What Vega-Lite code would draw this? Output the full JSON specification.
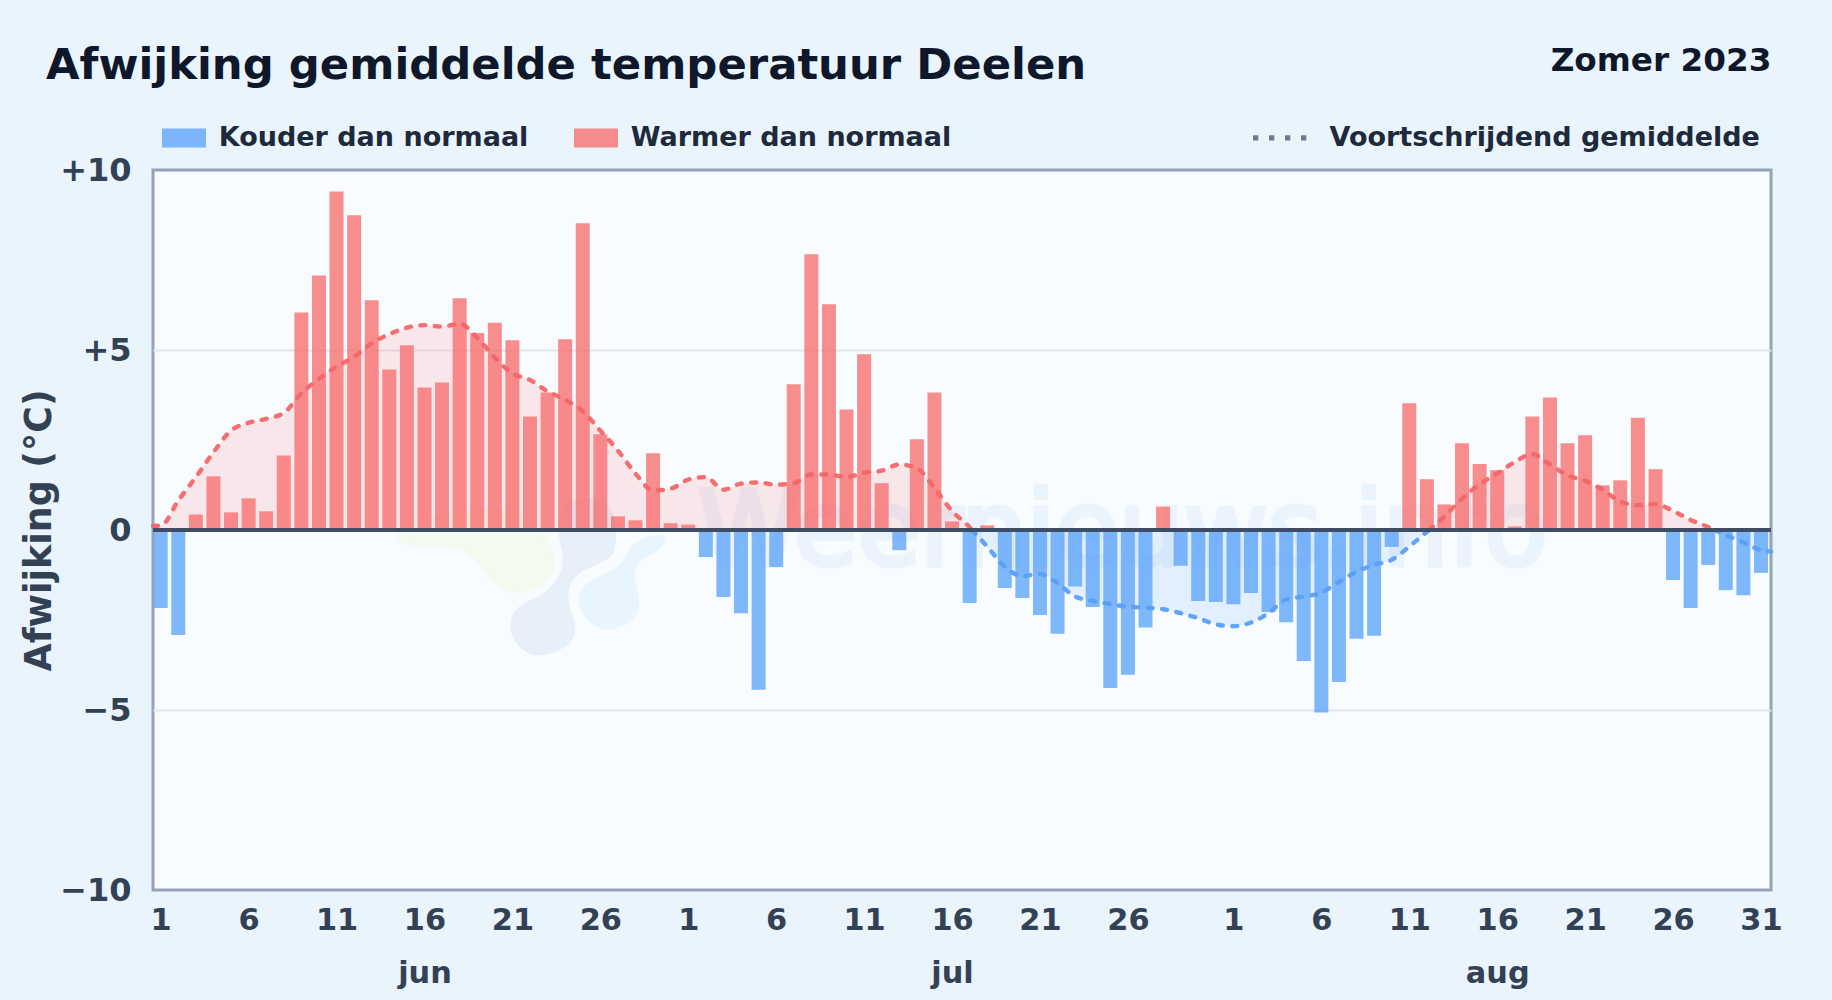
{"$schema":"https://vega.github.io/schema/vega-lite/v6.json","width":1618,"height":720,"autosize":{"type":"none"},"padding":{"left":153,"top":170,"right":61,"bottom":110},"background":"#e9f4fd",
"title":{"text":"Afwijking gemiddelde temperatuur Deelen","anchor":"start","frame":"group","dx":-107,"offset":-44,"font":"DejaVu Sans","fontWeight":"bold","fontSize":43.35,"color":"#0f172a"},
"config":{"font":"DejaVu Sans","view":{"fill":"#f8fcff","stroke":"#94a3b8","strokeWidth":3}},
"datasets":{
"dagen":[{"date":"2023-06-01T00:00:00","afwijking":-2.17,"soort":"Kouder dan normaal"},{"date":"2023-06-02T00:00:00","afwijking":-2.92,"soort":"Kouder dan normaal"},{"date":"2023-06-03T00:00:00","afwijking":0.43,"soort":"Warmer dan normaal"},{"date":"2023-06-04T00:00:00","afwijking":1.49,"soort":"Warmer dan normaal"},{"date":"2023-06-05T00:00:00","afwijking":0.49,"soort":"Warmer dan normaal"},{"date":"2023-06-06T00:00:00","afwijking":0.88,"soort":"Warmer dan normaal"},{"date":"2023-06-07T00:00:00","afwijking":0.52,"soort":"Warmer dan normaal"},{"date":"2023-06-08T00:00:00","afwijking":2.07,"soort":"Warmer dan normaal"},{"date":"2023-06-09T00:00:00","afwijking":6.04,"soort":"Warmer dan normaal"},{"date":"2023-06-10T00:00:00","afwijking":7.07,"soort":"Warmer dan normaal"},{"date":"2023-06-11T00:00:00","afwijking":9.4,"soort":"Warmer dan normaal"},{"date":"2023-06-12T00:00:00","afwijking":8.74,"soort":"Warmer dan normaal"},{"date":"2023-06-13T00:00:00","afwijking":6.38,"soort":"Warmer dan normaal"},{"date":"2023-06-14T00:00:00","afwijking":4.46,"soort":"Warmer dan normaal"},{"date":"2023-06-15T00:00:00","afwijking":5.13,"soort":"Warmer dan normaal"},{"date":"2023-06-16T00:00:00","afwijking":3.96,"soort":"Warmer dan normaal"},{"date":"2023-06-17T00:00:00","afwijking":4.1,"soort":"Warmer dan normaal"},{"date":"2023-06-18T00:00:00","afwijking":6.44,"soort":"Warmer dan normaal"},{"date":"2023-06-19T00:00:00","afwijking":5.47,"soort":"Warmer dan normaal"},{"date":"2023-06-20T00:00:00","afwijking":5.76,"soort":"Warmer dan normaal"},{"date":"2023-06-21T00:00:00","afwijking":5.27,"soort":"Warmer dan normaal"},{"date":"2023-06-22T00:00:00","afwijking":3.15,"soort":"Warmer dan normaal"},{"date":"2023-06-23T00:00:00","afwijking":3.82,"soort":"Warmer dan normaal"},{"date":"2023-06-24T00:00:00","afwijking":5.3,"soort":"Warmer dan normaal"},{"date":"2023-06-25T00:00:00","afwijking":8.52,"soort":"Warmer dan normaal"},{"date":"2023-06-26T00:00:00","afwijking":2.66,"soort":"Warmer dan normaal"},{"date":"2023-06-27T00:00:00","afwijking":0.38,"soort":"Warmer dan normaal"},{"date":"2023-06-28T00:00:00","afwijking":0.27,"soort":"Warmer dan normaal"},{"date":"2023-06-29T00:00:00","afwijking":2.13,"soort":"Warmer dan normaal"},{"date":"2023-06-30T00:00:00","afwijking":0.19,"soort":"Warmer dan normaal"},{"date":"2023-07-01T00:00:00","afwijking":0.15,"soort":"Warmer dan normaal"},{"date":"2023-07-02T00:00:00","afwijking":-0.75,"soort":"Kouder dan normaal"},{"date":"2023-07-03T00:00:00","afwijking":-1.86,"soort":"Kouder dan normaal"},{"date":"2023-07-04T00:00:00","afwijking":-2.31,"soort":"Kouder dan normaal"},{"date":"2023-07-05T00:00:00","afwijking":-4.44,"soort":"Kouder dan normaal"},{"date":"2023-07-06T00:00:00","afwijking":-1.03,"soort":"Kouder dan normaal"},{"date":"2023-07-07T00:00:00","afwijking":4.05,"soort":"Warmer dan normaal"},{"date":"2023-07-08T00:00:00","afwijking":7.66,"soort":"Warmer dan normaal"},{"date":"2023-07-09T00:00:00","afwijking":6.27,"soort":"Warmer dan normaal"},{"date":"2023-07-10T00:00:00","afwijking":3.35,"soort":"Warmer dan normaal"},{"date":"2023-07-11T00:00:00","afwijking":4.88,"soort":"Warmer dan normaal"},{"date":"2023-07-12T00:00:00","afwijking":1.3,"soort":"Warmer dan normaal"},{"date":"2023-07-13T00:00:00","afwijking":-0.56,"soort":"Kouder dan normaal"},{"date":"2023-07-14T00:00:00","afwijking":2.52,"soort":"Warmer dan normaal"},{"date":"2023-07-15T00:00:00","afwijking":3.82,"soort":"Warmer dan normaal"},{"date":"2023-07-16T00:00:00","afwijking":0.24,"soort":"Warmer dan normaal"},{"date":"2023-07-17T00:00:00","afwijking":-2.03,"soort":"Kouder dan normaal"},{"date":"2023-07-18T00:00:00","afwijking":0.13,"soort":"Warmer dan normaal"},{"date":"2023-07-19T00:00:00","afwijking":-1.61,"soort":"Kouder dan normaal"},{"date":"2023-07-20T00:00:00","afwijking":-1.89,"soort":"Kouder dan normaal"},{"date":"2023-07-21T00:00:00","afwijking":-2.36,"soort":"Kouder dan normaal"},{"date":"2023-07-22T00:00:00","afwijking":-2.88,"soort":"Kouder dan normaal"},{"date":"2023-07-23T00:00:00","afwijking":-1.57,"soort":"Kouder dan normaal"},{"date":"2023-07-24T00:00:00","afwijking":-2.14,"soort":"Kouder dan normaal"},{"date":"2023-07-25T00:00:00","afwijking":-4.39,"soort":"Kouder dan normaal"},{"date":"2023-07-26T00:00:00","afwijking":-4.02,"soort":"Kouder dan normaal"},{"date":"2023-07-27T00:00:00","afwijking":-2.71,"soort":"Kouder dan normaal"},{"date":"2023-07-28T00:00:00","afwijking":0.65,"soort":"Warmer dan normaal"},{"date":"2023-07-29T00:00:00","afwijking":-0.99,"soort":"Kouder dan normaal"},{"date":"2023-07-30T00:00:00","afwijking":-1.97,"soort":"Kouder dan normaal"},{"date":"2023-07-31T00:00:00","afwijking":-2.0,"soort":"Kouder dan normaal"},{"date":"2023-08-01T00:00:00","afwijking":-2.06,"soort":"Kouder dan normaal"},{"date":"2023-08-02T00:00:00","afwijking":-1.75,"soort":"Kouder dan normaal"},{"date":"2023-08-03T00:00:00","afwijking":-2.28,"soort":"Kouder dan normaal"},{"date":"2023-08-04T00:00:00","afwijking":-2.56,"soort":"Kouder dan normaal"},{"date":"2023-08-05T00:00:00","afwijking":-3.64,"soort":"Kouder dan normaal"},{"date":"2023-08-06T00:00:00","afwijking":-5.07,"soort":"Kouder dan normaal"},{"date":"2023-08-07T00:00:00","afwijking":-4.22,"soort":"Kouder dan normaal"},{"date":"2023-08-08T00:00:00","afwijking":-3.02,"soort":"Kouder dan normaal"},{"date":"2023-08-09T00:00:00","afwijking":-2.94,"soort":"Kouder dan normaal"},{"date":"2023-08-10T00:00:00","afwijking":-0.47,"soort":"Kouder dan normaal"},{"date":"2023-08-11T00:00:00","afwijking":3.52,"soort":"Warmer dan normaal"},{"date":"2023-08-12T00:00:00","afwijking":1.41,"soort":"Warmer dan normaal"},{"date":"2023-08-13T00:00:00","afwijking":0.71,"soort":"Warmer dan normaal"},{"date":"2023-08-14T00:00:00","afwijking":2.41,"soort":"Warmer dan normaal"},{"date":"2023-08-15T00:00:00","afwijking":1.83,"soort":"Warmer dan normaal"},{"date":"2023-08-16T00:00:00","afwijking":1.66,"soort":"Warmer dan normaal"},{"date":"2023-08-17T00:00:00","afwijking":0.1,"soort":"Warmer dan normaal"},{"date":"2023-08-18T00:00:00","afwijking":3.15,"soort":"Warmer dan normaal"},{"date":"2023-08-19T00:00:00","afwijking":3.68,"soort":"Warmer dan normaal"},{"date":"2023-08-20T00:00:00","afwijking":2.41,"soort":"Warmer dan normaal"},{"date":"2023-08-21T00:00:00","afwijking":2.63,"soort":"Warmer dan normaal"},{"date":"2023-08-22T00:00:00","afwijking":1.24,"soort":"Warmer dan normaal"},{"date":"2023-08-23T00:00:00","afwijking":1.38,"soort":"Warmer dan normaal"},{"date":"2023-08-24T00:00:00","afwijking":3.12,"soort":"Warmer dan normaal"},{"date":"2023-08-25T00:00:00","afwijking":1.69,"soort":"Warmer dan normaal"},{"date":"2023-08-26T00:00:00","afwijking":-1.39,"soort":"Kouder dan normaal"},{"date":"2023-08-27T00:00:00","afwijking":-2.17,"soort":"Kouder dan normaal"},{"date":"2023-08-28T00:00:00","afwijking":-0.97,"soort":"Kouder dan normaal"},{"date":"2023-08-29T00:00:00","afwijking":-1.67,"soort":"Kouder dan normaal"},{"date":"2023-08-30T00:00:00","afwijking":-1.81,"soort":"Kouder dan normaal"},{"date":"2023-08-31T00:00:00","afwijking":-1.19,"soort":"Kouder dan normaal"}],
"gemiddelde":[
{"date":"2023-05-31T13:30:00","waarde":0.12,"deel":"a","soort":"Warmer dan normaal"},{"date":"2023-06-01T00:00:00","waarde":0.12,"deel":"a","soort":"Warmer dan normaal"},{"date":"2023-06-02T00:00:00","waarde":0.82,"deel":"a","soort":"Warmer dan normaal"},{"date":"2023-06-03T00:00:00","waarde":1.47,"deel":"a","soort":"Warmer dan normaal"},{"date":"2023-06-04T00:00:00","waarde":2.16,"deel":"a","soort":"Warmer dan normaal"},{"date":"2023-06-05T00:00:00","waarde":2.76,"deel":"a","soort":"Warmer dan normaal"},{"date":"2023-06-06T00:00:00","waarde":2.98,"deel":"a","soort":"Warmer dan normaal"},{"date":"2023-06-07T00:00:00","waarde":3.09,"deel":"a","soort":"Warmer dan normaal"},{"date":"2023-06-08T00:00:00","waarde":3.25,"deel":"a","soort":"Warmer dan normaal"},{"date":"2023-06-09T00:00:00","waarde":3.8,"deel":"a","soort":"Warmer dan normaal"},{"date":"2023-06-10T00:00:00","waarde":4.2,"deel":"a","soort":"Warmer dan normaal"},{"date":"2023-06-11T00:00:00","waarde":4.54,"deel":"a","soort":"Warmer dan normaal"},{"date":"2023-06-12T00:00:00","waarde":4.81,"deel":"a","soort":"Warmer dan normaal"},{"date":"2023-06-13T00:00:00","waarde":5.19,"deel":"a","soort":"Warmer dan normaal"},{"date":"2023-06-14T00:00:00","waarde":5.44,"deel":"a","soort":"Warmer dan normaal"},{"date":"2023-06-15T00:00:00","waarde":5.62,"deel":"a","soort":"Warmer dan normaal"},{"date":"2023-06-16T00:00:00","waarde":5.69,"deel":"a","soort":"Warmer dan normaal"},{"date":"2023-06-17T00:00:00","waarde":5.65,"deel":"a","soort":"Warmer dan normaal"},{"date":"2023-06-18T00:00:00","waarde":5.73,"deel":"a","soort":"Warmer dan normaal"},{"date":"2023-06-19T00:00:00","waarde":5.34,"deel":"a","soort":"Warmer dan normaal"},{"date":"2023-06-20T00:00:00","waarde":4.79,"deel":"a","soort":"Warmer dan normaal"},{"date":"2023-06-21T00:00:00","waarde":4.35,"deel":"a","soort":"Warmer dan normaal"},{"date":"2023-06-22T00:00:00","waarde":4.17,"deel":"a","soort":"Warmer dan normaal"},{"date":"2023-06-23T00:00:00","waarde":3.85,"deel":"a","soort":"Warmer dan normaal"},{"date":"2023-06-24T00:00:00","waarde":3.62,"deel":"a","soort":"Warmer dan normaal"},{"date":"2023-06-25T00:00:00","waarde":3.3,"deel":"a","soort":"Warmer dan normaal"},{"date":"2023-06-26T00:00:00","waarde":2.76,"deel":"a","soort":"Warmer dan normaal"},{"date":"2023-06-27T00:00:00","waarde":2.21,"deel":"a","soort":"Warmer dan normaal"},{"date":"2023-06-28T00:00:00","waarde":1.57,"deel":"a","soort":"Warmer dan normaal"},{"date":"2023-06-29T00:00:00","waarde":1.1,"deel":"a","soort":"Warmer dan normaal"},{"date":"2023-06-30T00:00:00","waarde":1.15,"deel":"a","soort":"Warmer dan normaal"},{"date":"2023-07-01T00:00:00","waarde":1.4,"deel":"a","soort":"Warmer dan normaal"},{"date":"2023-07-02T00:00:00","waarde":1.47,"deel":"a","soort":"Warmer dan normaal"},{"date":"2023-07-03T00:00:00","waarde":1.12,"deel":"a","soort":"Warmer dan normaal"},{"date":"2023-07-04T00:00:00","waarde":1.29,"deel":"a","soort":"Warmer dan normaal"},{"date":"2023-07-05T00:00:00","waarde":1.32,"deel":"a","soort":"Warmer dan normaal"},{"date":"2023-07-06T00:00:00","waarde":1.26,"deel":"a","soort":"Warmer dan normaal"},{"date":"2023-07-07T00:00:00","waarde":1.3,"deel":"a","soort":"Warmer dan normaal"},{"date":"2023-07-08T00:00:00","waarde":1.54,"deel":"a","soort":"Warmer dan normaal"},{"date":"2023-07-09T00:00:00","waarde":1.54,"deel":"a","soort":"Warmer dan normaal"},{"date":"2023-07-10T00:00:00","waarde":1.47,"deel":"a","soort":"Warmer dan normaal"},{"date":"2023-07-11T00:00:00","waarde":1.59,"deel":"a","soort":"Warmer dan normaal"},{"date":"2023-07-12T00:00:00","waarde":1.65,"deel":"a","soort":"Warmer dan normaal"},{"date":"2023-07-13T00:00:00","waarde":1.82,"deel":"a","soort":"Warmer dan normaal"},{"date":"2023-07-14T00:00:00","waarde":1.72,"deel":"a","soort":"Warmer dan normaal"},{"date":"2023-07-15T00:00:00","waarde":1.17,"deel":"a","soort":"Warmer dan normaal"},{"date":"2023-07-16T00:00:00","waarde":0.53,"deel":"a","soort":"Warmer dan normaal"},{"date":"2023-07-17T00:00:00","waarde":0.08,"deel":"a","soort":"Warmer dan normaal"},{"date":"2023-07-17T03:30:00","waarde":0,"deel":"a","soort":"Warmer dan normaal"},
{"date":"2023-07-17T03:30:00","waarde":0,"deel":"b","soort":"Kouder dan normaal"},{"date":"2023-07-18T00:00:00","waarde":-0.46,"deel":"b","soort":"Kouder dan normaal"},{"date":"2023-07-19T00:00:00","waarde":-1.02,"deel":"b","soort":"Kouder dan normaal"},{"date":"2023-07-20T00:00:00","waarde":-1.28,"deel":"b","soort":"Kouder dan normaal"},{"date":"2023-07-21T00:00:00","waarde":-1.22,"deel":"b","soort":"Kouder dan normaal"},{"date":"2023-07-22T00:00:00","waarde":-1.48,"deel":"b","soort":"Kouder dan normaal"},{"date":"2023-07-23T00:00:00","waarde":-1.85,"deel":"b","soort":"Kouder dan normaal"},{"date":"2023-07-24T00:00:00","waarde":-1.97,"deel":"b","soort":"Kouder dan normaal"},{"date":"2023-07-25T00:00:00","waarde":-2.06,"deel":"b","soort":"Kouder dan normaal"},{"date":"2023-07-26T00:00:00","waarde":-2.13,"deel":"b","soort":"Kouder dan normaal"},{"date":"2023-07-27T00:00:00","waarde":-2.16,"deel":"b","soort":"Kouder dan normaal"},{"date":"2023-07-28T00:00:00","waarde":-2.2,"deel":"b","soort":"Kouder dan normaal"},{"date":"2023-07-29T00:00:00","waarde":-2.31,"deel":"b","soort":"Kouder dan normaal"},{"date":"2023-07-30T00:00:00","waarde":-2.45,"deel":"b","soort":"Kouder dan normaal"},{"date":"2023-07-31T00:00:00","waarde":-2.62,"deel":"b","soort":"Kouder dan normaal"},{"date":"2023-08-01T00:00:00","waarde":-2.67,"deel":"b","soort":"Kouder dan normaal"},{"date":"2023-08-02T00:00:00","waarde":-2.57,"deel":"b","soort":"Kouder dan normaal"},{"date":"2023-08-03T00:00:00","waarde":-2.31,"deel":"b","soort":"Kouder dan normaal"},{"date":"2023-08-04T00:00:00","waarde":-1.93,"deel":"b","soort":"Kouder dan normaal"},{"date":"2023-08-05T00:00:00","waarde":-1.85,"deel":"b","soort":"Kouder dan normaal"},{"date":"2023-08-06T00:00:00","waarde":-1.74,"deel":"b","soort":"Kouder dan normaal"},{"date":"2023-08-07T00:00:00","waarde":-1.44,"deel":"b","soort":"Kouder dan normaal"},{"date":"2023-08-08T00:00:00","waarde":-1.16,"deel":"b","soort":"Kouder dan normaal"},{"date":"2023-08-09T00:00:00","waarde":-0.97,"deel":"b","soort":"Kouder dan normaal"},{"date":"2023-08-10T00:00:00","waarde":-0.83,"deel":"b","soort":"Kouder dan normaal"},{"date":"2023-08-11T00:00:00","waarde":-0.46,"deel":"b","soort":"Kouder dan normaal"},{"date":"2023-08-12T00:00:00","waarde":-0.05,"deel":"b","soort":"Kouder dan normaal"},{"date":"2023-08-12T03:00:00","waarde":0,"deel":"b","soort":"Kouder dan normaal"},
{"date":"2023-08-12T03:00:00","waarde":0,"deel":"c","soort":"Warmer dan normaal"},{"date":"2023-08-13T00:00:00","waarde":0.38,"deel":"c","soort":"Warmer dan normaal"},{"date":"2023-08-14T00:00:00","waarde":0.87,"deel":"c","soort":"Warmer dan normaal"},{"date":"2023-08-15T00:00:00","waarde":1.27,"deel":"c","soort":"Warmer dan normaal"},{"date":"2023-08-16T00:00:00","waarde":1.57,"deel":"c","soort":"Warmer dan normaal"},{"date":"2023-08-17T00:00:00","waarde":1.89,"deel":"c","soort":"Warmer dan normaal"},{"date":"2023-08-18T00:00:00","waarde":2.11,"deel":"c","soort":"Warmer dan normaal"},{"date":"2023-08-19T00:00:00","waarde":1.82,"deel":"c","soort":"Warmer dan normaal"},{"date":"2023-08-20T00:00:00","waarde":1.52,"deel":"c","soort":"Warmer dan normaal"},{"date":"2023-08-21T00:00:00","waarde":1.37,"deel":"c","soort":"Warmer dan normaal"},{"date":"2023-08-22T00:00:00","waarde":1.12,"deel":"c","soort":"Warmer dan normaal"},{"date":"2023-08-23T00:00:00","waarde":0.79,"deel":"c","soort":"Warmer dan normaal"},{"date":"2023-08-24T00:00:00","waarde":0.69,"deel":"c","soort":"Warmer dan normaal"},{"date":"2023-08-25T00:00:00","waarde":0.72,"deel":"c","soort":"Warmer dan normaal"},{"date":"2023-08-26T00:00:00","waarde":0.53,"deel":"c","soort":"Warmer dan normaal"},{"date":"2023-08-27T00:00:00","waarde":0.28,"deel":"c","soort":"Warmer dan normaal"},{"date":"2023-08-28T00:00:00","waarde":0.08,"deel":"c","soort":"Warmer dan normaal"},{"date":"2023-08-28T08:30:00","waarde":0,"deel":"c","soort":"Warmer dan normaal"},
{"date":"2023-08-28T08:30:00","waarde":0,"deel":"d","soort":"Kouder dan normaal"},{"date":"2023-08-29T00:00:00","waarde":-0.14,"deel":"d","soort":"Kouder dan normaal"},{"date":"2023-08-30T00:00:00","waarde":-0.35,"deel":"d","soort":"Kouder dan normaal"},{"date":"2023-08-31T00:00:00","waarde":-0.56,"deel":"d","soort":"Kouder dan normaal"},{"date":"2023-08-31T13:40:00","waarde":-0.6,"deel":"d","soort":"Kouder dan normaal"}]},
"resolve":{"axis":{"x":"independent","y":"independent"}},
"encoding":{"x":{"field":"date","type":"temporal","scale":{"domain":["2023-05-31T13:30:00","2023-08-31T13:40:00"],"padding":0},"axis":null}},
"layer":[
{"data":{"values":[{"date":"2023-06-21T10:00:00","naam":"logo groen"}]},"mark":{"type":"point","filled":true,"fill":"#f3faf0","stroke":"#f3faf0","strokeWidth":3,"strokeJoin":"round","opacity":1,"shape":"M-1.185,0.1 Q-1.07,0.17 -0.87,0.16 Q-0.67,0.15 -0.55,0.21 Q-0.43,0.27 -0.35,0.4 Q-0.27,0.53 -0.135,0.59 Q0,0.65 0.15,0.575 Q0.3,0.5 0.33,0.385 Q0.36,0.27 0.28,0.135 Q0.2,0 0.125,-0.1 Q0.05,-0.2 -0.275,-0.2 Q-0.6,-0.2 -0.95,-0.085 Q-1.3,0.03 -1.185,0.1Z","size":40000},"encoding":{"y":{"datum":0,"type":"quantitative","scale":{"domain":[-10,10],"nice":false},"axis":null}}},
{"data":{"values":[{"date":"2023-06-21T10:00:00","naam":"logo donker"}]},"mark":{"type":"point","filled":true,"fill":"#e7f0f9","stroke":"#e7f0f9","strokeWidth":3,"strokeJoin":"round","opacity":1,"shape":"M0.43,0.165 Q0.48,0.33 0.39,0.485 Q0.3,0.64 0.135,0.705 Q-0.03,0.77 -0.065,0.875 Q-0.1,0.98 -0.04,1.09 Q0.02,1.2 0.125,1.23 Q0.23,1.26 0.365,1.2 Q0.5,1.14 0.53,1.055 Q0.56,0.97 0.505,0.835 Q0.45,0.7 0.485,0.565 Q0.52,0.43 0.7,0.36 Q0.88,0.29 0.92,0.23 Q0.96,0.17 0.94,-0.065 Q0.92,-0.3 0.685,-0.3 Q0.45,-0.3 0.415,-0.15 Q0.38,0 0.43,0.165Z","size":40000},"encoding":{"y":{"datum":0,"type":"quantitative","axis":null}}},
{"data":{"values":[{"date":"2023-06-21T10:00:00","naam":"logo licht"}]},"mark":{"type":"point","filled":true,"fill":"#e9f5fe","stroke":"#e9f5fe","strokeWidth":3,"strokeJoin":"round","opacity":1,"shape":"M0.625,0.615 Q0.67,0.53 0.85,0.455 Q1.03,0.38 1.08,0.255 Q1.13,0.13 1.29,0.08 Q1.45,0.03 1.44,0.1 Q1.43,0.17 1.3,0.235 Q1.17,0.3 1.145,0.385 Q1.12,0.47 1.16,0.6 Q1.2,0.73 1.165,0.815 Q1.13,0.9 1.015,0.95 Q0.9,1 0.8,0.965 Q0.7,0.93 0.64,0.815 Q0.58,0.7 0.625,0.615Z","size":40000},"encoding":{"y":{"datum":0,"type":"quantitative","axis":null}}},
{"data":{"values":[{"date":"2023-07-25T17:00:00","tekst":"Weernieuws.info"}]},"mark":{"type":"text","font":"DejaVu Sans","fontWeight":"normal","fontSize":103,"align":"center","baseline":"alphabetic","fill":"#ebf3fc","stroke":"#ebf3fc","strokeWidth":5},"encoding":{"y":{"datum":-0.97,"type":"quantitative","axis":null},"text":{"field":"tekst"}}},
{"data":{"name":"gemiddelde"},"mark":{"type":"area","interpolate":"monotone","opacity":0.15},"encoding":{"x":{"field":"date","type":"temporal","axis":{"orient":"top","title":"Zomer 2023","domain":false,"ticks":false,"labels":false,"grid":false,"titleFont":"DejaVu Sans","titleFontWeight":"bold","titleFontSize":32.7,"titleColor":"#0f172a","titleAnchor":"end","titleAlign":"right","titlePadding":92.7}},"y":{"field":"waarde","type":"quantitative","axis":null},"y2":{"datum":0},"fill":{"field":"soort","type":"nominal","legend":null,"scale":{"domain":["Warmer dan normaal","Kouder dan normaal"],"range":["#f87171","#60a5fa"]}},"detail":{"field":"deel"}}},
{"data":{"name":"dagen"},"mark":{"type":"bar","width":14,"opacity":0.8},"encoding":{"x":{"field":"date","type":"temporal","scale":{"padding":0},"axis":{"values":["2023-06-01T00:00:00","2023-06-06T00:00:00","2023-06-11T00:00:00","2023-06-16T00:00:00","2023-06-21T00:00:00","2023-06-26T00:00:00","2023-07-01T00:00:00","2023-07-06T00:00:00","2023-07-11T00:00:00","2023-07-16T00:00:00","2023-07-21T00:00:00","2023-07-26T00:00:00","2023-08-01T00:00:00","2023-08-06T00:00:00","2023-08-11T00:00:00","2023-08-16T00:00:00","2023-08-21T00:00:00","2023-08-26T00:00:00","2023-08-31T00:00:00"],"format":"%-d","title":null,"domain":false,"ticks":false,"grid":false,"labelOverlap":false,"labelFlush":false,"labelFont":"DejaVu Sans","labelFontWeight":"bold","labelFontSize":30.4,"labelColor":"#334155","labelPadding":15}},
"y":{"field":"afwijking","type":"quantitative","scale":{"domain":[-10,10],"nice":false},"axis":{"values":[-10,-5,0,5,10],"title":"Afwijking (°C)","labelExpr":"datum.value>0?'+'+datum.value:(datum.value<0?'−'+abs(datum.value):'0')","domain":false,"ticks":false,"grid":true,"gridColor":"#e0e6eb","gridWidth":2,"gridOpacity":{"condition":{"test":"abs(datum.value)==10","value":0},"value":1},"labelFont":"DejaVu Sans","labelFontWeight":"bold","labelFontSize":32,"labelColor":"#334155","labelPadding":22,"titleFont":"DejaVu Sans","titleFontWeight":"bold","titleFontSize":36.4,"titleColor":"#334155","titlePadding":1}},
"color":{"field":"soort","type":"nominal","scale":{"domain":["Kouder dan normaal","Warmer dan normaal"],"range":["#60a5fa","#f87171"]},"legend":{"title":null,"orient":"none","legendX":8,"legendY":-55,"columns":2,"padding":0,"symbolType":"M-1,-0.43H1V0.43H-1Z","symbolSize":1936,"labelFont":"DejaVu Sans","labelFontWeight":"bold","labelFontSize":27,"labelColor":"#1e293b","labelOffset":11.7,"columnPadding":44,"labelLimit":500}}}},
{"data":{"name":"gemiddelde"},"mark":{"type":"line","interpolate":"monotone","strokeWidth":4.4,"strokeCap":"round","strokeDash":[5,9.5],"opacity":0.95},"encoding":{"x":{"field":"date","type":"temporal","axis":{"values":["2023-06-16T00:00:00","2023-07-16T00:00:00","2023-08-16T00:00:00"],"labelExpr":"lower(timeFormat(datum.value,'%b'))","title":null,"domain":false,"ticks":false,"grid":false,"labelOverlap":false,"labelFont":"DejaVu Sans","labelFontWeight":"bold","labelFontSize":30.4,"labelColor":"#334155","labelPadding":68}},"y":{"field":"waarde","type":"quantitative","axis":null},"stroke":{"field":"soort","type":"nominal","legend":null,"scale":{"range":["#5a9ff7","#f46668"]}},"detail":{"field":"deel"}}},
{"data":{"values":[]},"mark":{"type":"line","stroke":"#6b7a8f","strokeWidth":5.3},"encoding":{"x":{"field":"date","type":"temporal","axis":null},"y":{"field":"waarde","type":"quantitative","axis":null},"strokeDash":{"datum":"Voortschrijdend gemiddelde","type":"nominal","scale":{"range":[[5.3,10.7]]},"legend":{"title":null,"orient":"none","legendX":1097,"legendY":-63.2,"padding":0,"symbolType":"stroke","symbolSize":3136,"symbolStrokeWidth":5.3,"symbolStrokeColor":"#6b7a8f","labelFont":"DejaVu Sans","labelFontWeight":"bold","labelFontSize":27,"labelColor":"#1e293b","labelOffset":17.5,"labelLimit":600}}}},
{"data":{"values":[{"naam":"nullijn"}]},"mark":{"type":"rule","color":"#3f4c61","strokeWidth":4},"encoding":{"x":{"value":0,"axis":null},"x2":{"value":1618},"y":{"datum":0,"type":"quantitative","axis":null}}}
]}
